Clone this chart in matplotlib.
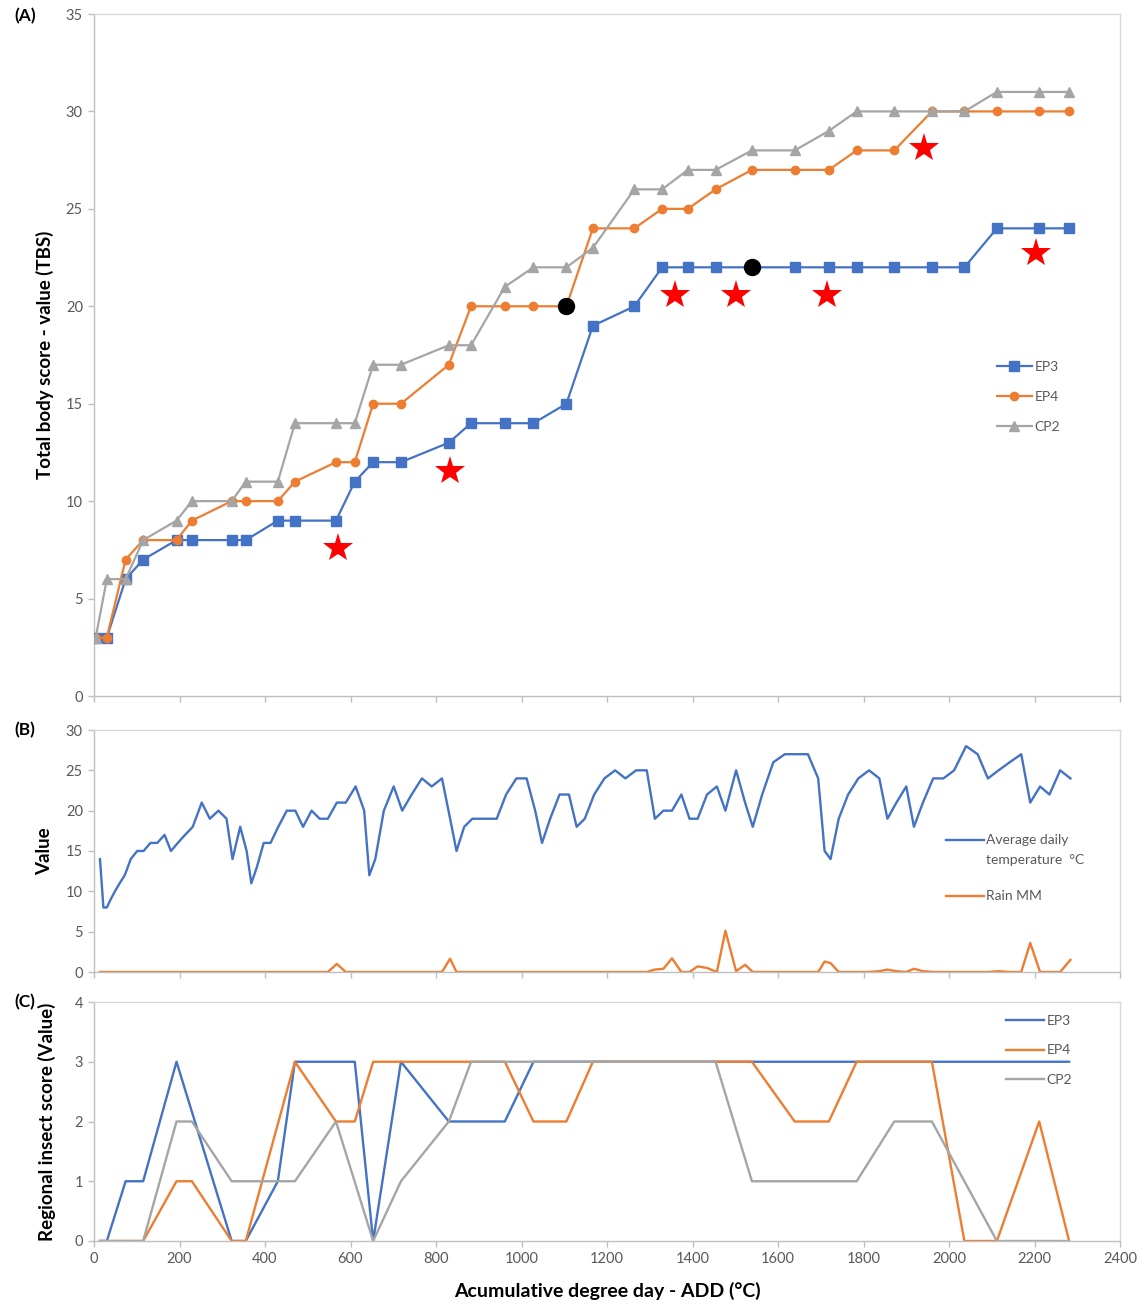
import numpy as np
import matplotlib
matplotlib.use("Agg")
import matplotlib.pyplot as plt
from matplotlib.lines import Line2D

plt.rcParams['font.family'] = ['Lato', 'DejaVu Sans']

# ---------------- data ----------------
# (A) total body score per observation, x = accumulated degree days
obs_add = [4, 30, 74, 115, 193, 229, 322, 355, 430, 470, 566, 610, 653, 718,
           830, 882, 961, 1028, 1105, 1167, 1264, 1329, 1389, 1454, 1539,
           1639, 1719, 1784, 1872, 1960, 2036, 2112, 2211, 2281]
tbs_ep3 = [3, 3, 6, 7, 8, 8, 8, 8, 9, 9, 9, 11, 12, 12, 13, 14, 14, 14, 15,
           19, 20, 22, 22, 22, 22, 22, 22, 22, 22, 22, 22, 24, 24, 24]
tbs_ep4 = [3, 3, 7, 8, 8, 9, 10, 10, 10, 11, 12, 12, 15, 15, 17, 20, 20, 20,
           20, 24, 24, 25, 25, 26, 27, 27, 27, 28, 28, 30, 30, 30, 30, 30]
tbs_cp2 = [3, 6, 6, 8, 9, 10, 10, 11, 11, 14, 14, 14, 17, 17, 18, 18, 21, 22,
           22, 23, 26, 26, 27, 27, 28, 28, 29, 30, 30, 30, 30, 31, 31, 31]
dot_add = [1105, 1539]
dot_tbs = [20, 22]
star_add = [571, 833, 1359, 1502, 1714, 1942, 2204]
star_tbs = [7.6, 11.55, 20.6, 20.6, 20.6, 28.1, 22.75]

# (B) daily weather; ADD accumulates each day's mean temperature
temperature = [14, 8, 8, 9, 10, 11, 12, 14, 15, 15, 16, 16, 17, 15, 16, 17,
               18, 21, 19, 20, 19, 14, 18, 15, 11, 13, 16, 16, 18, 20, 20, 18,
               20, 19, 19, 21,
               21, 23, 20, 12, 14, 20, 23, 20, 22, 24, 23, 24, 19, 15, 18, 19,
               19, 19, 19, 22, 24, 24, 20, 16, 19, 22, 22, 18, 19,
               22, 24, 25, 24, 25, 25, 19, 20, 20, 22, 19, 19, 22, 23, 20, 25,
               21, 18, 22, 26, 27, 27, 27, 24, 15, 14,
               19, 22, 24, 25, 24, 19, 21, 23, 18, 21, 24, 24, 25, 28, 27, 24,
               25, 26, 27, 21, 23, 22, 25, 24]
rain = [0, 0, 0, 0, 0, 0, 0, 0, 0, 0, 0, 0, 0, 0, 0, 0,
        0, 0, 0, 0, 0, 0, 0, 0, 0, 0, 0, 0, 0, 0, 0, 0,
        0, 0, 0, 1.0,
        0, 0, 0, 0, 0, 0, 0, 0, 0, 0, 0, 0, 1.65, 0, 0, 0,
        0, 0, 0, 0, 0, 0, 0, 0, 0, 0, 0, 0, 0,
        0, 0, 0, 0, 0, 0, 0.3, 0.4, 1.7, 0, 0, 0.7, 0.5, 0, 5.1, 0.1,
        0.9, 0, 0, 0, 0, 0, 0, 0, 1.3, 1.1,
        0, 0, 0, 0, 0.1, 0.3, 0.1, 0, 0.4, 0.1, 0, 0, 0, 0, 0, 0,
        0.1, 0, 0, 3.6, 0, 0, 0, 1.5]
day_add = np.cumsum(temperature)

# (C) regional insect score
ins_ep3_add = [14, 30, 74, 115, 193, 322, 355, 430, 470, 610, 653, 718, 830,
               961, 1028, 2281]
ins_ep3 = [0, 0, 1, 1, 3, 0, 0, 1, 3, 3, 0, 3, 2, 2, 3, 3]
ins_ep4_add = [14, 115, 193, 229, 322, 355, 470, 566, 610, 653, 961, 1028,
               1105, 1167, 1539, 1639, 1719, 1784, 1960, 2036, 2112, 2211, 2281]
ins_ep4 = [0, 0, 1, 1, 0, 0, 3, 2, 2, 3, 3, 2, 2, 3, 3, 2, 2, 3, 3, 0, 0, 2, 0]
ins_cp2_add = [14, 115, 193, 229, 322, 470, 566, 653, 718, 830, 882, 1454,
               1539, 1784, 1872, 1960, 2112, 2281]
ins_cp2 = [0, 0, 2, 2, 1, 1, 2, 0, 1, 2, 3, 3, 1, 1, 2, 2, 0, 0]

x_ticks = list(range(0, 2401, 200))

# ---------------- style ----------------
BLUE = '#4472C4'
ORANGE = '#ED7D31'
GREY = '#A5A5A5'
TICK_TXT = '#595959'
AXIS_COL = '#BFBFBF'
BORDER_COL = '#D9D9D9'

W, H = 1144, 1304
fig = plt.figure(figsize=(W / 100, H / 100), dpi=100)


def fx(px):
    return px / W


def fy(py):
    return 1 - py / H


def box(left, top, right, bottom):
    return [left / W, 1 - bottom / H, (right - left) / W, (bottom - top) / H]


def style_axes(ax, yticks, show_xlabels):
    ax.set_xlim(0, 2400)
    ax.set_xticks(x_ticks)
    ax.set_yticks(yticks)
    ax.set_ylim(yticks[0], yticks[-1])
    for side in ('left', 'bottom'):
        ax.spines[side].set_color(AXIS_COL)
        ax.spines[side].set_linewidth(1.0)
    for side in ('top', 'right'):
        ax.spines[side].set_color(BORDER_COL)
        ax.spines[side].set_linewidth(1.0)
    ax.tick_params(axis='both', direction='out', length=4, width=1,
                   color=AXIS_COL, labelcolor=TICK_TXT, labelsize=10.5, pad=4)
    if not show_xlabels:
        ax.tick_params(axis='x', labelbottom=False)


def grey_legend(ax, anchor_px, spacing, hlen):
    leg = ax.legend(loc='upper left', bbox_to_anchor=(fx(anchor_px[0]), fy(anchor_px[1])),
                    bbox_transform=fig.transFigure, frameon=False, fontsize=10,
                    handlelength=hlen, handletextpad=0.2, labelspacing=spacing,
                    borderpad=0, borderaxespad=0)
    for t in leg.get_texts():
        t.set_color(TICK_TXT)
    return leg


# ---------------- (A) ----------------
axA = fig.add_axes(box(94, 14, 1120, 696))
style_axes(axA, list(range(0, 36, 5)), False)
axA.plot(obs_add, tbs_ep3, color=BLUE, lw=1.6, marker='s', ms=6.5, label='EP3', zorder=3)
axA.plot(obs_add, tbs_ep4, color=ORANGE, lw=1.6, marker='o', ms=6, label='EP4', zorder=4)
axA.plot(obs_add, tbs_cp2, color=GREY, lw=1.6, marker='^', ms=6.5, label='CP2', zorder=5)
axA.plot(dot_add, dot_tbs, ls='none', marker='o', ms=11.5, color='black', zorder=6)
axA.plot(star_add, star_tbs, ls='none', marker='*', ms=22, color='#FF0000',
         markeredgewidth=0, zorder=6)
grey_legend(axA, (997, 361), 1.3, 2.5)

# ---------------- (B) ----------------
axB = fig.add_axes(box(94, 730, 1120, 972))
style_axes(axB, list(range(0, 31, 5)), False)
axB.plot(day_add, temperature, color=BLUE, lw=1.7)
axB.plot(day_add, rain, color=ORANGE, lw=1.7)
for ypx, col, lines in ((840, BLUE, ['Average daily', 'temperature  °C']),
                        (896, ORANGE, ['Rain MM'])):
    fig.add_artist(Line2D([fx(946), fx(984)], [fy(ypx), fy(ypx)], color=col,
                          lw=1.7, transform=fig.transFigure))
    for k, line in enumerate(lines):
        fig.text(fx(986), fy(ypx + 20 * k), line, ha='left', va='center',
                 fontsize=10, color=TICK_TXT)

# ---------------- (C) ----------------
axC = fig.add_axes(box(94, 1002, 1120, 1241))
style_axes(axC, [0, 1, 2, 3, 4], True)
axC.plot(ins_ep3_add, ins_ep3, color=BLUE, lw=1.7, label='EP3')
axC.plot(ins_ep4_add, ins_ep4, color=ORANGE, lw=1.7, label='EP4')
axC.plot(ins_cp2_add, ins_cp2, color=GREY, lw=1.7, label='CP2')
grey_legend(axC, (1006, 1015), 1.25, 2.7)

# ---------------- labels ----------------
lab = dict(fontweight='bold', color='black')
fig.text(fx(25), fy(16), '(A)', ha='center', va='center', fontsize=12.5, **lab)
fig.text(fx(25), fy(730), '(B)', ha='center', va='center', fontsize=12.5, **lab)
fig.text(fx(25), fy(1002), '(C)', ha='center', va='center', fontsize=12.5, **lab)
fig.text(fx(45), fy(355), 'Total body score - value (TBS)', rotation=90,
         ha='center', va='center', fontsize=13.5, **lab)
fig.text(fx(45), fy(851), 'Value', rotation=90,
         ha='center', va='center', fontsize=13.5, **lab)
fig.text(fx(47), fy(1122), 'Regional insect score (Value)', rotation=90,
         ha='center', va='center', fontsize=13.5, **lab)
fig.text(fx(607), fy(1291), 'Acumulative degree day - ADD (°C)',
         ha='center', va='center', fontsize=14, **lab)

fig.savefig('out.png', dpi=100, facecolor='white')
